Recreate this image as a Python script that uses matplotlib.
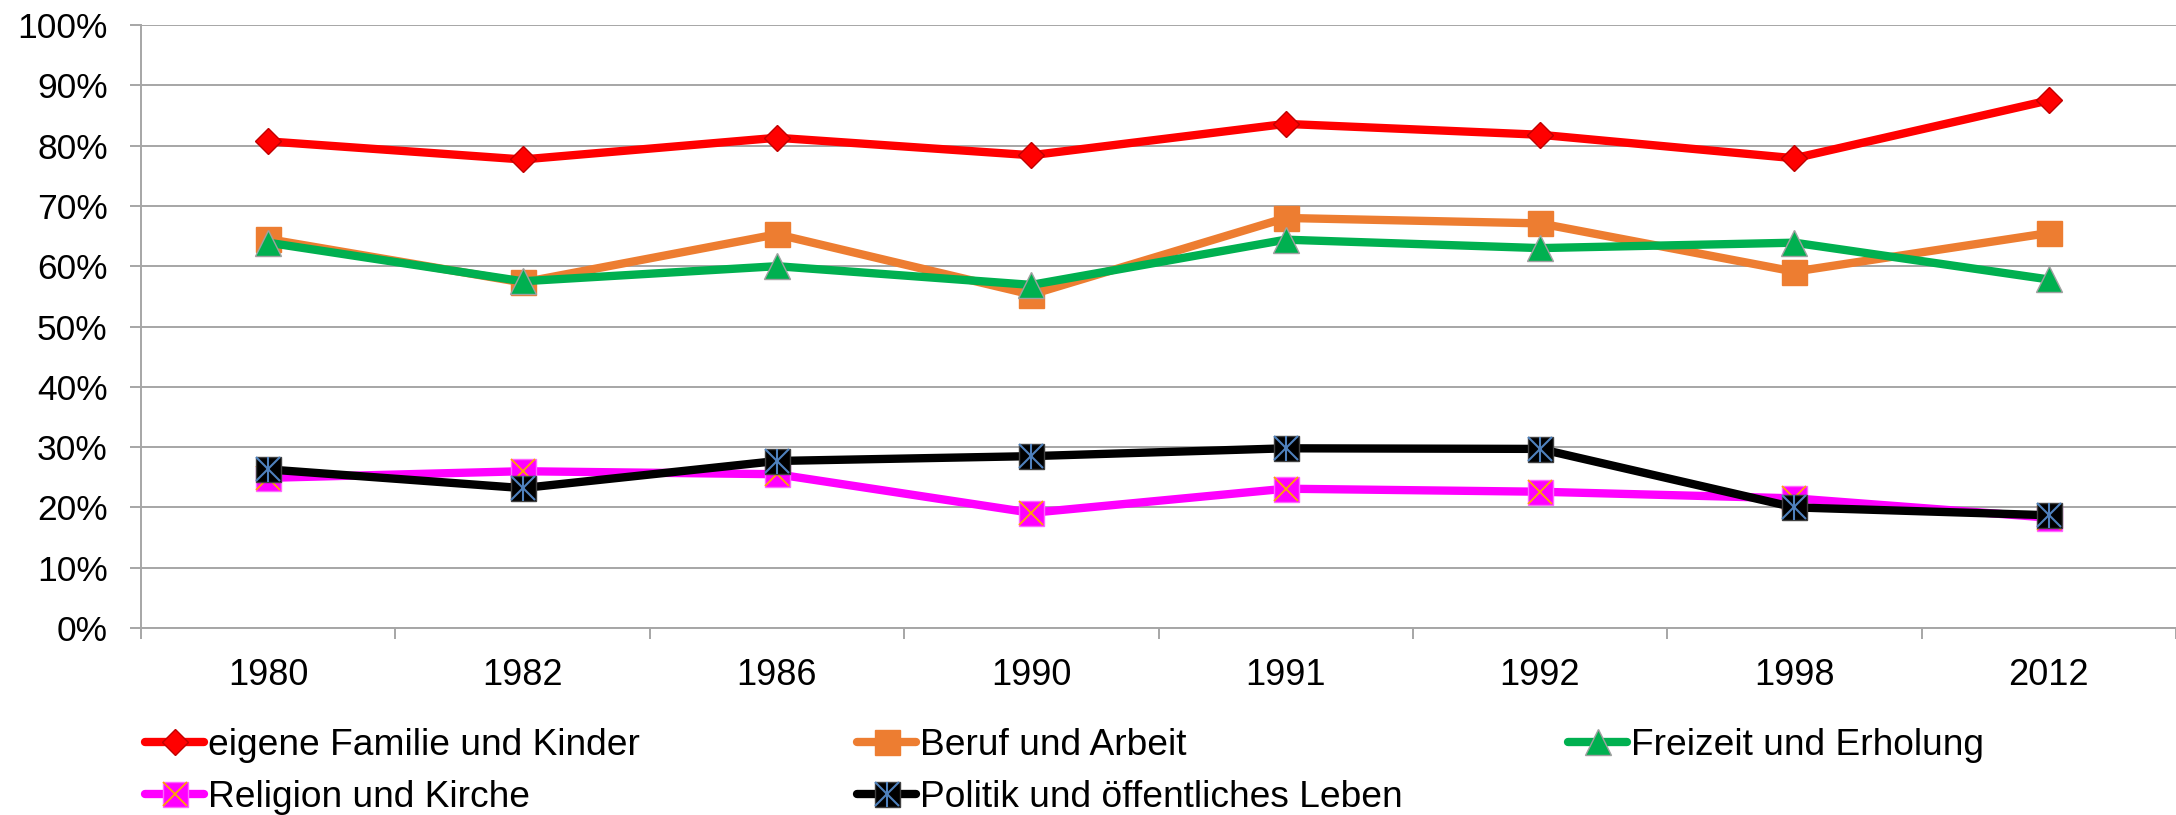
import numpy as np
import matplotlib
matplotlib.use("Agg")
import matplotlib.pyplot as plt
from matplotlib.ticker import FixedLocator, PercentFormatter
from matplotlib.legend_handler import HandlerTuple

plt.rcParams['font.family'] = ['Liberation Sans', 'DejaVu Sans']

# data (percent)
years = ['1980', '1982', '1986', '1990', '1991', '1992', '1998', '2012']
familie = [80.7, 77.7, 81.3, 78.4, 83.6, 81.8, 77.9, 87.5]
beruf = [64.5, 57.3, 65.3, 55.3, 68.0, 67.1, 59.1, 65.5]
freizeit = [63.9, 57.5, 60.0, 56.9, 64.4, 63.0, 63.9, 57.8]
religion = [24.9, 26.0, 25.5, 19.1, 23.1, 22.6, 21.5, 18.3]
politik = [26.3, 23.2, 27.7, 28.5, 29.8, 29.7, 20.0, 18.7]

labels = ['eigene Familie und Kinder', 'Beruf und Arbeit', 'Freizeit und Erholung',
          'Religion und Kirche', 'Politik und öffentliches Leben']

fig = plt.figure(figsize=(21.76, 8.15), dpi=100)
ax = fig.add_axes([141 / 2176, 187 / 815, 1 - 141 / 2176, 603 / 815])

x = np.arange(len(years))
lw = 6

h_fam, = ax.plot(x, familie, color='#FF0000', lw=lw, marker='D', ms=13,
                 mfc='#FF0000', mec='#C00000', mew=1, solid_capstyle='round', zorder=3)
h_ber, = ax.plot(x, beruf, color='#ED7D31', lw=lw, marker='s', ms=18,
                 mfc='#ED7D31', mec='#ED7D31', mew=1, solid_capstyle='round', zorder=3)
h_fre, = ax.plot(x, freizeit, color='#00B050', lw=lw, marker='^', ms=19,
                 mfc='#00B050', mec='#A0A0A0', mew=1, solid_capstyle='round', zorder=3)
h_rel, = ax.plot(x, religion, color='#FF00FF', lw=lw, marker='s', ms=18,
                 mfc='#FF00FF', mec='#FF66FF', mew=1, solid_capstyle='round', zorder=3)
h_rel_x, = ax.plot(x, religion, ls='none', marker='x', ms=17, mec='#FFA500', mew=1.3, zorder=3)
h_pol, = ax.plot(x, politik, color='#000000', lw=lw, marker='s', ms=18,
                 mfc='#000000', mec='#404040', mew=1, solid_capstyle='round', zorder=3)
h_pol_x, = ax.plot(x, politik, ls='none', marker='x', ms=17, mec='#4F81BD', mew=1.5, zorder=3)
h_pol_v, = ax.plot(x, politik, ls='none', marker='|', ms=18, mec='#4F81BD', mew=1.5, zorder=3)

ax.set_xlim(-0.5, len(years) - 0.5)
ax.set_ylim(0, 100)
ax.set_yticks(np.arange(0, 101, 10))
ax.yaxis.set_major_formatter(PercentFormatter(decimals=0))
ax.set_xticks(x)
ax.set_xticklabels(years)
ax.xaxis.set_minor_locator(FixedLocator(np.arange(-0.5, len(years), 1.0)))

ax.grid(axis='y', color='#A6A6A6', lw=1.4, zorder=0)
for s in ['top', 'right']:
    ax.spines[s].set_visible(False)
for s in ['left', 'bottom']:
    ax.spines[s].set_color('#A6A6A6')
    ax.spines[s].set_linewidth(1.4)

ax.tick_params(axis='y', which='major', length=8, width=1.4, color='#A6A6A6',
               labelsize=25.5, pad=16)
ax.tick_params(axis='x', which='major', length=0, labelsize=26, pad=21.5)
ax.tick_params(axis='x', which='minor', length=8, width=1.4, color='#A6A6A6')

# legend in three columns, placed by hand
leg_kw = dict(frameon=False, fontsize=26.7, handlelength=1.6, handletextpad=0.1,
              borderpad=0, borderaxespad=0, labelspacing=0.46, loc='upper left',
              handler_map={tuple: HandlerTuple(ndivide=1, pad=0)})
top = 1 - 728 / 815
fig.legend([h_fam, (h_rel, h_rel_x)], [labels[0], labels[3]],
           bbox_to_anchor=(145 / 2176, top), **leg_kw)
fig.legend([h_ber, (h_pol, h_pol_x, h_pol_v)], [labels[1], labels[4]],
           bbox_to_anchor=(857 / 2176, top), **leg_kw)
fig.legend([h_fre], [labels[2]],
           bbox_to_anchor=(1568 / 2176, top), **leg_kw)

fig.savefig('out.png', dpi=100)
